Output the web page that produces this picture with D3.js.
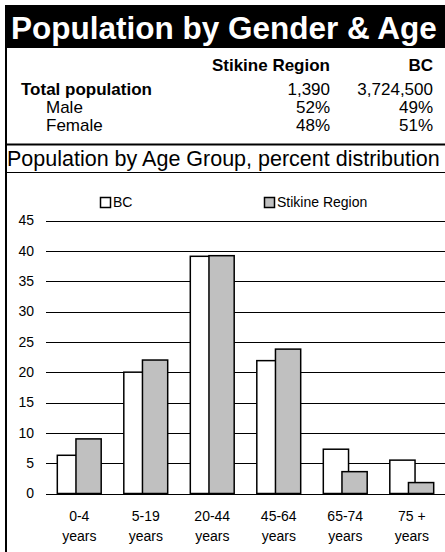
<!DOCTYPE html>
<html>
<head>
<meta charset="utf-8">
<script src="https://cdn.jsdelivr.net/npm/d3@7"></script>
<style>
body { margin: 0; background: #fff; }
svg { display: block; font-family: "Liberation Sans", Arial, sans-serif; }
</style>
</head>
<body>
<div class="container"></div>
<script>
var w = 445;
var h = 552;

var ageGroups = ["0-4", "5-19", "20-44", "45-64", "65-74", "75 +"];
var bcValues = [6.3, 20.0, 39.1, 21.9, 7.3, 5.5];
var stikineValues = [9.0, 22.0, 39.2, 23.8, 3.6, 1.8];
var yTicks = [0, 5, 10, 15, 20, 25, 30, 35, 40, 45];
var tableCols = ["Stikine Region", "BC"];
var tableRows = ["Total population", "Male", "Female"];
var stikineStats = ["1,390", "52%", "48%"];
var bcStats = ["3,724,500", "49%", "51%"];

var svg = d3.select('.container')
  .append('svg')
  .attr('width', w)
  .attr('height', h);

// title band
svg.append('rect')
  .attr('x', 5).attr('y', 5)
  .attr('width', w - 5).attr('height', 43)
  .style('fill', '#000');

svg.append('text')
  .attr('x', 11).attr('y', 39)
  .style('font-size', '31.5px')
  .style('font-weight', 'bold')
  .style('fill', '#fff')
  .text('Population by Gender & Age');

// left border
svg.append('line')
  .attr('x1', 6).attr('x2', 6)
  .attr('y1', 48).attr('y2', h)
  .style('stroke', '#000').style('stroke-width', 2);

// table
var colRight = [330, 433];
svg.selectAll('.colhead')
  .data(tableCols)
  .enter().append('text')
  .attr('class', 'colhead')
  .attr('x', (d, i) => colRight[i])
  .attr('y', 71)
  .attr('text-anchor', 'end')
  .style('font-size', '17px')
  .style('font-weight', 'bold')
  .text(d => d);

var rowY = [95, 113, 131];
svg.selectAll('.rowlabel')
  .data(tableRows)
  .enter().append('text')
  .attr('class', 'rowlabel')
  .attr('x', (d, i) => i == 0 ? 21 : 46)
  .attr('y', (d, i) => rowY[i])
  .style('font-size', '17px')
  .style('font-weight', (d, i) => i == 0 ? 'bold' : 'normal')
  .text(d => d);

[stikineStats, bcStats].forEach(function(col, c) {
  svg.selectAll('.stat' + c)
    .data(col)
    .enter().append('text')
    .attr('class', 'stat' + c)
    .attr('x', colRight[c])
    .attr('y', (d, i) => rowY[i])
    .attr('text-anchor', 'end')
    .style('font-size', '17px')
    .text(d => d);
});

svg.append('line')
  .attr('x1', 5).attr('x2', w)
  .attr('y1', 144.5).attr('y2', 144.5)
  .style('stroke', '#000').style('stroke-width', 2);

svg.append('text')
  .attr('x', 7).attr('y', 166)
  .style('font-size', '21.5px')
  .text('Population by Age Group, percent distribution');

svg.append('line')
  .attr('x1', 5).attr('x2', w)
  .attr('y1', 172.5).attr('y2', 172.5)
  .style('stroke', '#000').style('stroke-width', 1);

// chart
var xScale = d3.scaleBand()
  .domain(ageGroups)
  .range([46, w])
  .paddingInner(0.34)
  .paddingOuter(0.17);

var yScale = d3.scaleLinear()
  .domain([0, 45])
  .range([493.5, 220.5]);

var plot = svg.append('g');

plot.selectAll('.grid')
  .data(yTicks)
  .enter().append('line')
  .attr('class', 'grid')
  .attr('x1', 46).attr('x2', w)
  .attr('y1', d => Math.round(yScale(d)) + 0.5)
  .attr('y2', d => Math.round(yScale(d)) + 0.5)
  .style('stroke', '#000').style('stroke-width', 1);

var yAxis = d3.axisLeft(yScale).tickValues(yTicks).tickSize(0).tickPadding(0);
var yAxisGroup = svg.append('g')
  .attr('transform', 'translate(34, 0)')
  .call(yAxis);
yAxisGroup.select('.domain').remove();
yAxisGroup.selectAll('text')
  .style('font-size', '14px')
  .style('font-family', '"Liberation Sans", Arial, sans-serif')
  .style('fill', '#000');

var barW = xScale.bandwidth() * 0.575;

plot.selectAll('.bc')
  .data(bcValues)
  .enter().append('rect')
  .attr('class', 'bc')
  .attr('x', (d, i) => xScale(ageGroups[i]))
  .attr('y', d => yScale(d))
  .attr('width', barW)
  .attr('height', d => yScale(0) - yScale(d))
  .style('fill', '#fff')
  .style('stroke', '#000').style('stroke-width', 1.5);

plot.selectAll('.stikine')
  .data(stikineValues)
  .enter().append('rect')
  .attr('class', 'stikine')
  .attr('x', (d, i) => xScale(ageGroups[i]) + xScale.bandwidth() - barW)
  .attr('y', d => yScale(d))
  .attr('width', barW)
  .attr('height', d => yScale(0) - yScale(d))
  .style('fill', '#c0c0c0')
  .style('stroke', '#000').style('stroke-width', 1.5);

// x labels
var xl = svg.selectAll('.xlabel')
  .data(ageGroups)
  .enter().append('g')
  .attr('class', 'xlabel')
  .attr('transform', d => 'translate(' + (xScale(d) + xScale.bandwidth() / 2) + ',0)');
xl.append('text')
  .attr('y', 521)
  .attr('text-anchor', 'middle')
  .style('font-size', '14px')
  .text(d => d);
xl.append('text')
  .attr('y', 541)
  .attr('text-anchor', 'middle')
  .style('font-size', '14px')
  .text('years');

// legend
var legendItems = [["BC", "#fff", 100], ["Stikine Region", "#c0c0c0", 264]];
var legend = svg.append('g').attr('id', 'legend');
legendItems.forEach(function(d) {
  legend.append('rect')
    .attr('x', d[2] + 0.5).attr('y', 197.5)
    .attr('width', 10).attr('height', 10)
    .style('fill', d[1])
    .style('stroke', '#000').style('stroke-width', 1.5);
  legend.append('text')
    .attr('x', d[2] + 13).attr('y', 207)
    .style('font-size', '14px')
    .text(d[0]);
});
</script>
</body>
</html>
